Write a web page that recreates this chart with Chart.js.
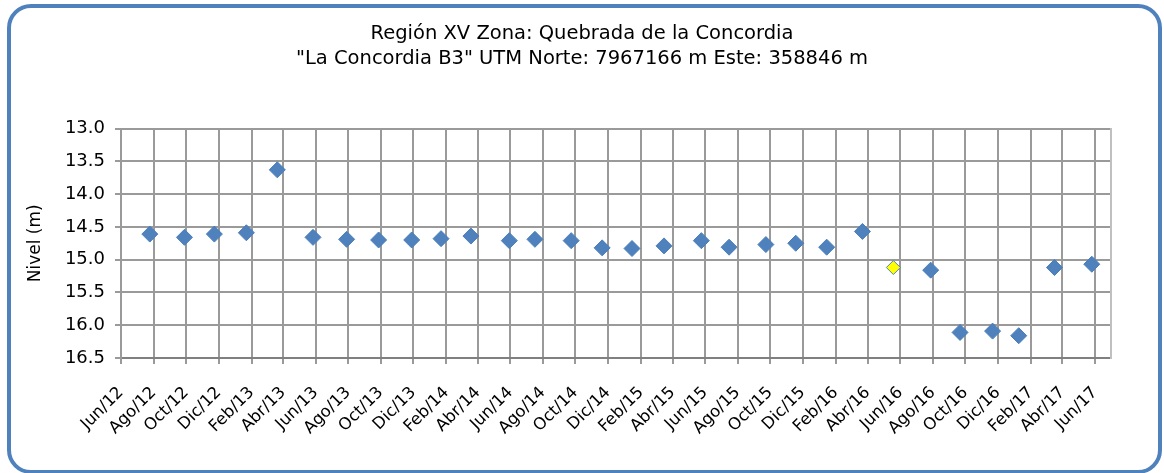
<!DOCTYPE html>
<html lang="es">
<head>
<meta charset="utf-8">
<title>Nivel La Concordia B3</title>
<script src="https://cdn.jsdelivr.net/npm/chart.js@4.4.1/dist/chart.umd.min.js"></script>
<style>
    html, body { margin: 0; padding: 0; background: #fff; }
    #wrap { position: absolute; left: 0; top: 0; width: 1164px; height: 473px; }
    #marco {
        position: absolute; left: 7px; top: 4px; width: 1155px; height: 470px;
        box-sizing: border-box; border: 4px solid #4F81BD; border-radius: 24px;
        pointer-events: none;
    }
</style>
</head>
<body>
<div id="wrap"><canvas id="chart"></canvas></div>
<div id="marco"></div>
<script>
// Fechas de medición y nivel estático medido (m)
const fechas = [
    "2012-07-25", "2012-09-28", "2012-11-23", "2013-01-22", "2013-03-21", "2013-05-27",
    "2013-07-29", "2013-09-27", "2013-11-28", "2014-01-22", "2014-03-19", "2014-05-30",
    "2014-07-17", "2014-09-23", "2014-11-20", "2015-01-15", "2015-03-16", "2015-05-25",
    "2015-07-16", "2015-09-23", "2015-11-18", "2016-01-15", "2016-03-22", "2016-05-19",
    "2016-07-28", "2016-09-21", "2016-11-21", "2017-01-09", "2017-03-17", "2017-05-26",
];
const niveles = [
    14.61, 14.66, 14.61, 14.59, 13.63, 14.66,
    14.69, 14.70, 14.70, 14.68, 14.64, 14.71,
    14.69, 14.71, 14.82, 14.83, 14.79, 14.71,
    14.81, 14.77, 14.75, 14.81, 14.57, 15.12,
    15.16, 16.11, 16.09, 16.16, 15.12, 15.07,
];
// medición marcada en amarillo
const destacado = 23;

const etiquetasX = [
    "Jun/12", "Ago/12", "Oct/12", "Dic/12", "Feb/13", "Abr/13", "Jun/13", "Ago/13",
    "Oct/13", "Dic/13", "Feb/14", "Abr/14", "Jun/14", "Ago/14", "Oct/14", "Dic/14",
    "Feb/15", "Abr/15", "Jun/15", "Ago/15", "Oct/15", "Dic/15", "Feb/16", "Abr/16",
    "Jun/16", "Ago/16", "Oct/16", "Dic/16", "Feb/17", "Abr/17", "Jun/17",
];
const nivelesEje = [13.0, 13.5, 14.0, 14.5, 15.0, 15.5, 16.0, 16.5];

const titulo = [
    "Región XV Zona: Quebrada de la Concordia",
    "\"La Concordia B3\" UTM Norte: 7967166 m Este: 358846 m",
];

const FONT = "'DejaVu Sans', Verdana, sans-serif";
const AZUL = "#4F81BD";
const GRILLA = "#9a9a9a";

const aFecha = (s) => Date.parse(s + "T00:00:00Z");
// cada etiqueta cae en el día 1 del mes, cada dos meses desde junio 2012
const ticksX = etiquetasX.map((_, i) => Date.UTC(2012, 5 + 2 * i, 1));

const puntos = fechas.map((f, i) => ({ x: aFecha(f), y: niveles[i] }));

new Chart(document.getElementById("chart"), {
    type: "scatter",
    data: {
        datasets: [
            {
                data: puntos,
                yAxisID: "y",
                pointStyle: "rectRot",
                pointRadius: puntos.map((_, i) => (i === destacado ? 7 : 8)),
                pointBackgroundColor: puntos.map((_, i) => (i === destacado ? "#FFFF00" : AZUL)),
                pointBorderColor: puntos.map((_, i) => (i === destacado ? AZUL : "#4A7EBB")),
                pointBorderWidth: 1,
            },
        ],
    },
    options: {
        responsive: true,
        maintainAspectRatio: false,
        animation: false,
        layout: { padding: 0 },
        plugins: {
            legend: { display: false },
            tooltip: { enabled: false },
            title: {
                display: true,
                text: titulo,
                color: "#000",
                font: { family: FONT, size: 19.5, weight: "normal", lineHeight: 1.28 },
                padding: { top: 21, bottom: 57.6 },
            },
        },
        scales: {
            x: {
                type: "linear",
                min: Date.UTC(2012, 5, 1),
                max: Date.UTC(2017, 6, 1),
                afterBuildTicks: (scale) => {
                    scale.ticks = ticksX.map((value) => ({ value }));
                },
                afterFit: (scale) => {
                    scale.height = 115;
                },
                grid: { color: GRILLA, lineWidth: 2, tickLength: 6 },
                border: { color: "#808080", width: 2 },
                ticks: {
                    autoSkip: false,
                    minRotation: 45,
                    maxRotation: 45,
                    padding: 19,
                    color: "#000",
                    font: { family: FONT, size: 16.5 },
                    callback: (value, index) => etiquetasX[index],
                },
            },
            y: {
                position: "left",
                reverse: true,
                min: 13,
                max: 16.5,
                afterBuildTicks: (scale) => {
                    scale.ticks = nivelesEje.map((value) => ({ value }));
                },
                afterFit: (scale) => {
                    scale.width = 121;
                },
                grid: { color: GRILLA, lineWidth: 2, tickLength: 6 },
                border: { color: GRILLA, width: 2 },
                ticks: {
                    padding: 10,
                    color: "#000",
                    font: { family: FONT, size: 18 },
                    callback: (value) => value.toFixed(1),
                },
                title: {
                    display: true,
                    text: "Nivel (m)",
                    color: "#000",
                    font: { family: FONT, size: 17 },
                    padding: { top: 25, bottom: 0 },
                },
            },
            // borde derecho del área de trazado
            y2: {
                position: "right",
                afterFit: (scale) => {
                    scale.width = 53;
                },
                grid: { display: false },
                border: { color: "#c0c0c0", width: 2 },
                ticks: { display: false },
            },
        },
    },
});
</script>
</body>
</html>
